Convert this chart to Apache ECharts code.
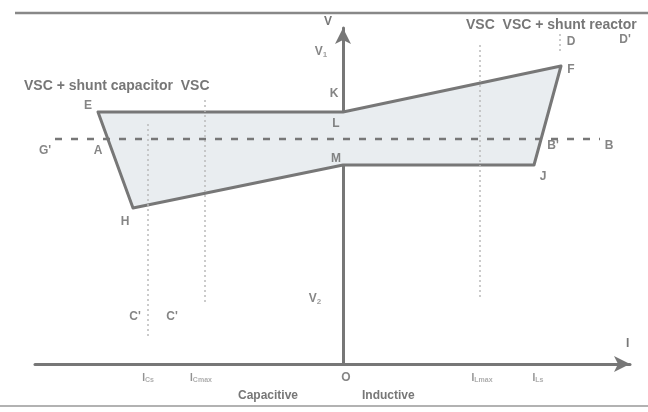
<!DOCTYPE html>
<html><head><meta charset="utf-8">
<script src="https://cdn.jsdelivr.net/npm/echarts@6/dist/echarts.min.js"></script>
<style>html,body{margin:0;padding:0;background:#fff}#c{width:648px;height:412px}</style>
</head><body><div id="c"></div>
<script>
// Operating region vertices (current I, voltage V) in schematic units
var regionNames = ['E', 'K', 'F', 'J', 'M', 'H'];
var regionI = [-2.45, 0, 2.18, 1.91, 0, -2.10];
var regionV = [2.52, 2.52, 2.98, 1.99, 1.99, 1.56];
// Reference voltage dashed line G' - B
var refI = [-2.88, 2.57];
var refV = [2.25, 2.25];
// Vertical guide lines: [I, Vtop, Vbottom]
var guideI = [-1.95, -1.38, 1.37, 2.17];
var guideTop = [2.40, 2.64, 3.19, 3.30];
var guideBottom = [0.25, 0.60, 0.64, 3.12];
// Point labels
var ptText = ['E', 'K', 'L', 'M', 'A', "G'", 'H', 'F', "B'", 'B', 'J', 'D', "D'", 'O', "C'", "C'"];
var ptI = [-2.55, -0.09, -0.07, -0.07, -2.45, -2.98, -2.18, 2.28, 2.10, 2.66, 2.00, 2.28, 2.82, 0.03, -2.08, -1.71];
var ptV = [2.58, 2.70, 2.40, 2.05, 2.13, 2.13, 1.42, 2.94, 2.18, 2.18, 1.87, 3.22, 3.24, -0.14, 0.47, 0.47];
// Axis level labels
var vLabels = ['V{s|1}', 'V{s|2}'];
var vLabelI = [-0.22, -0.28];
var vLabelV = [3.12, 0.65];
var iLabels = ['I{s|Cs}', 'I{s|Cmax}', 'I{s|Lmax}', 'I{s|Ls}'];
var iLabelI = [-1.95, -1.42, 1.39, 1.95];

var grey = '#777';
var chart = echarts.init(document.getElementById('c'));
var font = 'Liberation Sans';

function guideData() {
  var out = [];
  for (var i = 0; i < guideI.length; i++) out.push([guideI[i], guideTop[i], guideBottom[i]]);
  return out;
}

chart.setOption({
  animation: false,
  backgroundColor: '#fff',
  grid: { left: 35, right: 18, top: 28, bottom: 48 },
  xAxis: {
    type: 'value', min: -3.08, max: 2.87,
    axisLine: { show: true, onZero: true, symbol: ['none', 'arrow'], symbolSize: [12, 16], lineStyle: { color: grey, width: 3 } },
    axisTick: { show: false }, axisLabel: { show: false }, splitLine: { show: false }
  },
  yAxis: {
    type: 'value', min: 0, max: 3.36,
    axisLine: { show: true, onZero: true, symbol: ['none', 'arrow'], symbolSize: [12, 16], lineStyle: { color: grey, width: 3 } },
    axisTick: { show: false }, axisLabel: { show: false }, splitLine: { show: false }
  },
  graphic: [
    { type: 'line', shape: { x1: 15, y1: 13, x2: 648, y2: 13 }, style: { stroke: '#888', lineWidth: 2.5 } },
    { type: 'line', shape: { x1: 0, y1: 406, x2: 648, y2: 406 }, style: { stroke: '#999', lineWidth: 1.5 } },
    { type: 'text', left: 24, top: 79, style: { text: 'VSC + shunt capacitor  VSC', fill: '#777', font: 'bold 14px "Liberation Sans"' } },
    { type: 'text', left: 466, top: 18, style: { text: 'VSC  VSC + shunt reactor', fill: '#777', font: 'bold 14px "Liberation Sans"' } },
    { type: 'text', left: 324, top: 16, style: { text: 'V', fill: '#777', font: 'bold 12px "Liberation Sans"' } },
    { type: 'text', left: 626, top: 338, style: { text: 'I', fill: '#777', font: 'bold 12px "Liberation Sans"' } },
    { type: 'text', left: 238, top: 390, style: { text: 'Capacitive', fill: '#777', font: 'bold 12px "Liberation Sans"' } },
    { type: 'text', left: 362, top: 390, style: { text: 'Inductive', fill: '#777', font: 'bold 12px "Liberation Sans"' } }
  ],
  series: [
    {
      type: 'custom', name: 'region', z: 1,
      data: [0],
      renderItem: function (params, api) {
        var pts = [];
        for (var i = 0; i < regionI.length; i++) pts.push(api.coord([regionI[i], regionV[i]]));
        return { type: 'polygon', shape: { points: pts }, style: { fill: '#e9edf0', stroke: grey, lineWidth: 3, lineJoin: 'round' } };
      }
    },
    {
      type: 'custom', name: 'guides', z: 2,
      data: guideData(),
      renderItem: function (params, api) {
        var p1 = api.coord([api.value(0), api.value(1)]);
        var p2 = api.coord([api.value(0), api.value(2)]);
        return { type: 'line', shape: { x1: p1[0], y1: p1[1], x2: p2[0], y2: p2[1] }, style: { stroke: '#bbb', lineWidth: 1.5, lineDash: [2, 3] } };
      }
    },
    {
      type: 'line', name: 'ref', z: 3, symbol: 'none',
      data: refI.map(function (x, i) { return [x, refV[i]]; }),
      lineStyle: { color: grey, width: 2.5, type: [7, 9] }
    },
    {
      type: 'scatter', z: 4, symbolSize: 0, clip: false,
      data: ptText.map(function (t, i) { return { value: [ptI[i], ptV[i]], name: t }; }),
      label: { show: true, position: 'inside', formatter: '{b}', color: '#666', fontWeight: 'bold', fontSize: 12, fontFamily: font }
    },
    {
      type: 'scatter', z: 4, symbolSize: 0, clip: false,
      data: vLabels.map(function (t, i) { return { value: [vLabelI[i], vLabelV[i]], name: t }; }),
      label: { show: true, position: 'inside', formatter: '{b}', color: '#666', fontWeight: 'bold', fontSize: 12, fontFamily: font,
        rich: { s: { fontSize: 8, color: '#888', verticalAlign: 'bottom', padding: [6, 0, 0, 0] } } }
    },
    {
      type: 'scatter', z: 4, symbolSize: 0, clip: false,
      data: iLabels.map(function (t, i) { return { value: [iLabelI[i], -0.14], name: t }; }),
      label: { show: true, position: 'inside', formatter: '{b}', color: '#777', fontWeight: 'bold', fontSize: 10, fontFamily: font,
        rich: { s: { fontSize: 7, color: '#999', padding: [5, 0, 0, 0] } } }
    }
  ]
});
</script></body></html>
